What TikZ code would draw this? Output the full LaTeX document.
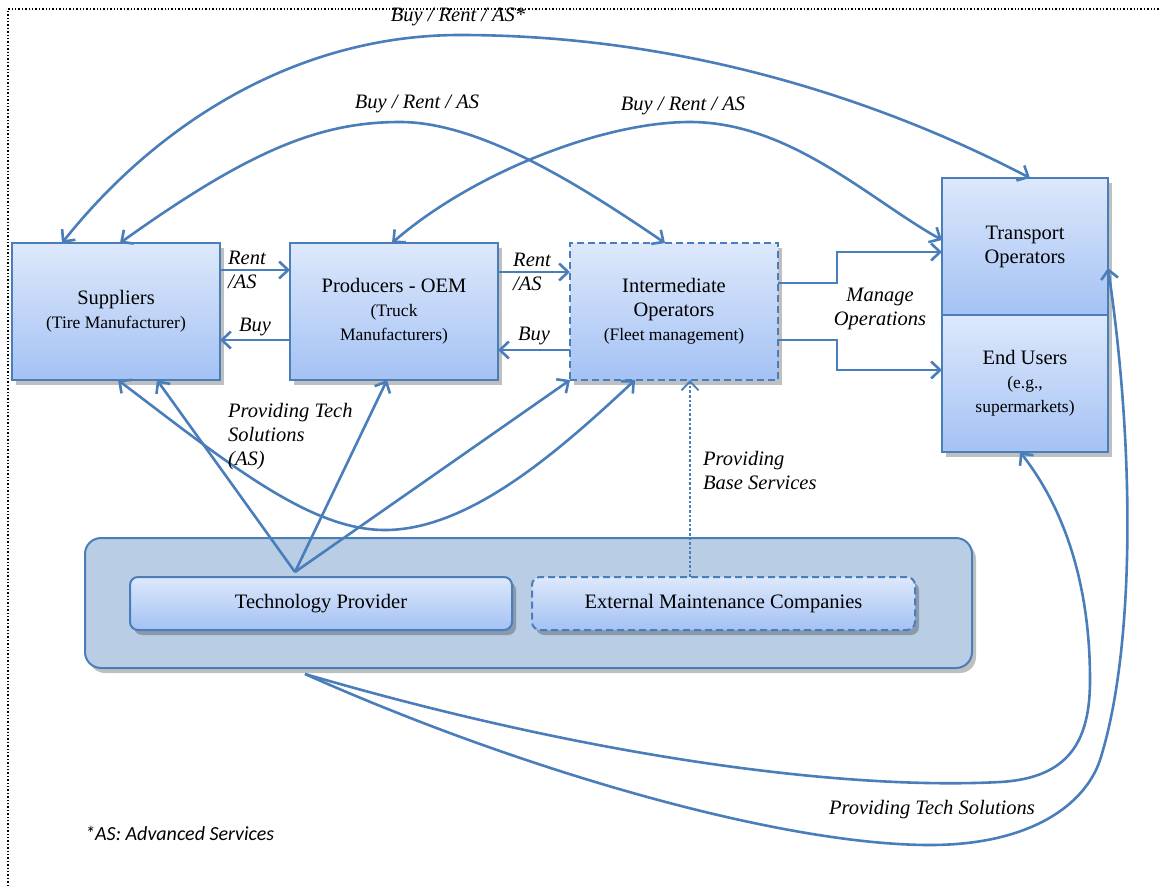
\documentclass[tikz,border=0pt]{standalone}
\usepackage{fontspec}
\setmainfont{Liberation Serif}
\newfontfamily\calibfont{Carlito}
\usetikzlibrary{positioning,arrows.meta,shadows}
\definecolor{edgeblue}{HTML}{4A7EBB}
\definecolor{boxtop}{HTML}{DDE8FB}
\definecolor{boxbot}{HTML}{A4C2F4}
\definecolor{baseblue}{HTML}{B9CDE5}
\newcommand{\subtxt}[1]{{\fontsize{17.5}{20}\selectfont #1}}

\begin{document}
\begin{tikzpicture}[
                x=1pt, y=-1pt,
                box/.style={draw=edgeblue, line width=2pt, top color=boxtop, bottom color=boxbot,
                    minimum width=208pt, minimum height=137pt, align=center, outer sep=0pt,
                    font=\fontsize{20.5}{24}\selectfont,
                    drop shadow={shadow xshift=4pt, shadow yshift=-5pt, opacity=0.25, fill=black}},
                dashbox/.style={dash pattern=on 7pt off 4pt},
                arr/.style={draw=edgeblue, line width=2.6pt, -{Straight Barb[length=9pt,width=17pt]}},
                twoway/.style={arr, {Straight Barb[length=9pt,width=17pt]}-{Straight Barb[length=9pt,width=17pt]}},
                lbl/.style={font=\fontsize{20.5}{24}\selectfont\itshape, align=left, inner sep=0pt}]
            \useasboundingbox (0,0) rectangle (1161,886);
            \draw[dotted, line width=1.4pt] (8,886) -- (8,9) -- (1161,9);

            \node[box] (sup) at (116,311.5) {Suppliers\\\subtxt{(Tire Manufacturer)}};
            \node[box] (prod) [right=70pt of sup] {Producers - OEM\\\subtxt{(Truck}\\\subtxt{Manufacturers)}};
            \node[box, dashbox] (inter) [right=72pt of prod] {Intermediate\\Operators\\\subtxt{(Fleet management)}};
            \node[box, minimum width=166pt] (trans) at (1025,246.5) {Transport\\Operators};
            \node[box, minimum width=166pt] (endu) [below=0pt of trans] {End Users\\\subtxt{(e.g.,}\\\subtxt{supermarkets)}};

            \node[draw=edgeblue, line width=2pt, fill=baseblue, rounded corners=16pt,
                minimum width=887pt, minimum height=130pt,
                drop shadow={shadow xshift=4pt, shadow yshift=-5pt, opacity=0.25, fill=black}] (infra) at (528.5,603) {};
            \node[box, rounded corners=8pt, minimum width=382pt, minimum height=53pt] (tech) at (321,603.5) {Technology Provider};
            \node[box, dashbox, rounded corners=8pt, minimum width=383pt, minimum height=53pt] (maint) [right=20pt of tech] {External Maintenance Companies};

            \draw[arr] ([yshift=41.5pt]sup.east) -- node[lbl, xshift=-8pt] {Rent\\/AS} ([yshift=41.5pt]prod.west);
            \draw[arr] ([yshift=-28.5pt]prod.west) -- node[lbl, above=3pt] {Buy} ([yshift=-28.5pt]sup.east);
            \draw[arr] ([yshift=39.5pt]prod.east) -- node[lbl, xshift=-2pt] {Rent\\/AS} ([yshift=39.5pt]inter.west);
            \draw[arr] ([yshift=-38.5pt]inter.west) -- node[lbl, above=4pt] {Buy} ([yshift=-38.5pt]prod.east);

            \draw[arr] ([yshift=28.5pt]inter.east) -- ++(59,0) |- ([yshift=-5.5pt]trans.west);
            \draw[arr] ([yshift=-28.5pt]inter.east) -- ++(59,0) |- ([yshift=13.5pt]endu.west);
            \node[lbl, align=center] (manage) at (880,309) {Manage\\Operations};

            \draw[twoway] ([xshift=-54pt]sup.north) .. controls (160,120) and (300,35) .. (460,35)
                .. controls (700,35) and (900,110) .. ([xshift=5pt]trans.north);
            \node[lbl] (buyall) at (458,17) {Buy / Rent / AS*};
            \draw[twoway] ([xshift=4pt]sup.north) .. controls (250,150) and (320,122) .. (400,122)
                .. controls (480,122) and (580,185) .. ([xshift=-9pt]inter.north);
            \node[lbl] (buyleft) at (417,104) {Buy / Rent / AS};
            \draw[twoway] ([xshift=-2pt]prod.north) .. controls (470,175) and (600,122) .. (690,122)
                .. controls (790,122) and (870,200) .. ([yshift=6.5pt]trans.west);
            \node[lbl] (buyright) at (683,106) {Buy / Rent / AS};

            \coordinate (techtop) at ([xshift=-26pt,yshift=5pt]tech.north);
            \draw[arr] (techtop) -- ([xshift=41pt]sup.south);
            \draw[arr] (techtop) -- ([xshift=-7pt]prod.south);
            \draw[arr] (techtop) -- (inter.south west);
            \draw[twoway] ([xshift=2pt]sup.south) .. controls (230,465) and (310,530) .. (385,530)
                .. controls (470,530) and (560,450) .. ([xshift=-39pt]inter.south);
            \draw[arr, dotted, line width=1.8pt] ([xshift=-33.5pt]maint.north) -- ([xshift=-33.5pt]maint.north |- inter.south);
            \node[lbl, anchor=north west] (techlbl) at (228,403) {Providing Tech\\Solutions\\(AS)};
            \node[lbl, anchor=north west] (baselbl) at (703,451) {Providing\\Base Services};

            \coordinate (infrabot) at ([xshift=-223.5pt,yshift=-5pt]infra.south);
            \draw[arr] (infrabot) .. controls (600,760) and (850,790) .. (1000,782)
                .. controls (1070,778) and (1090,740) .. (1090,680)
                .. controls (1090,560) and (1050,490) .. ([xshift=-5pt]endu.south);
            \draw[arr] (infrabot) .. controls (520,770) and (780,845) .. (930,845)
                .. controls (1030,845) and (1085,805) .. (1100,760)
                .. controls (1135,650) and (1135,450) .. ([yshift=-21.5pt]trans.east);
            \node[lbl] (sollbl) at (932,810) {Providing Tech Solutions};
            \node[font=\calibfont\itshape\fontsize{20}{24}\selectfont, anchor=west, inner sep=0pt] (asnote) at (85,833) {*AS: Advanced Services};
        \end{tikzpicture}
\end{document}
